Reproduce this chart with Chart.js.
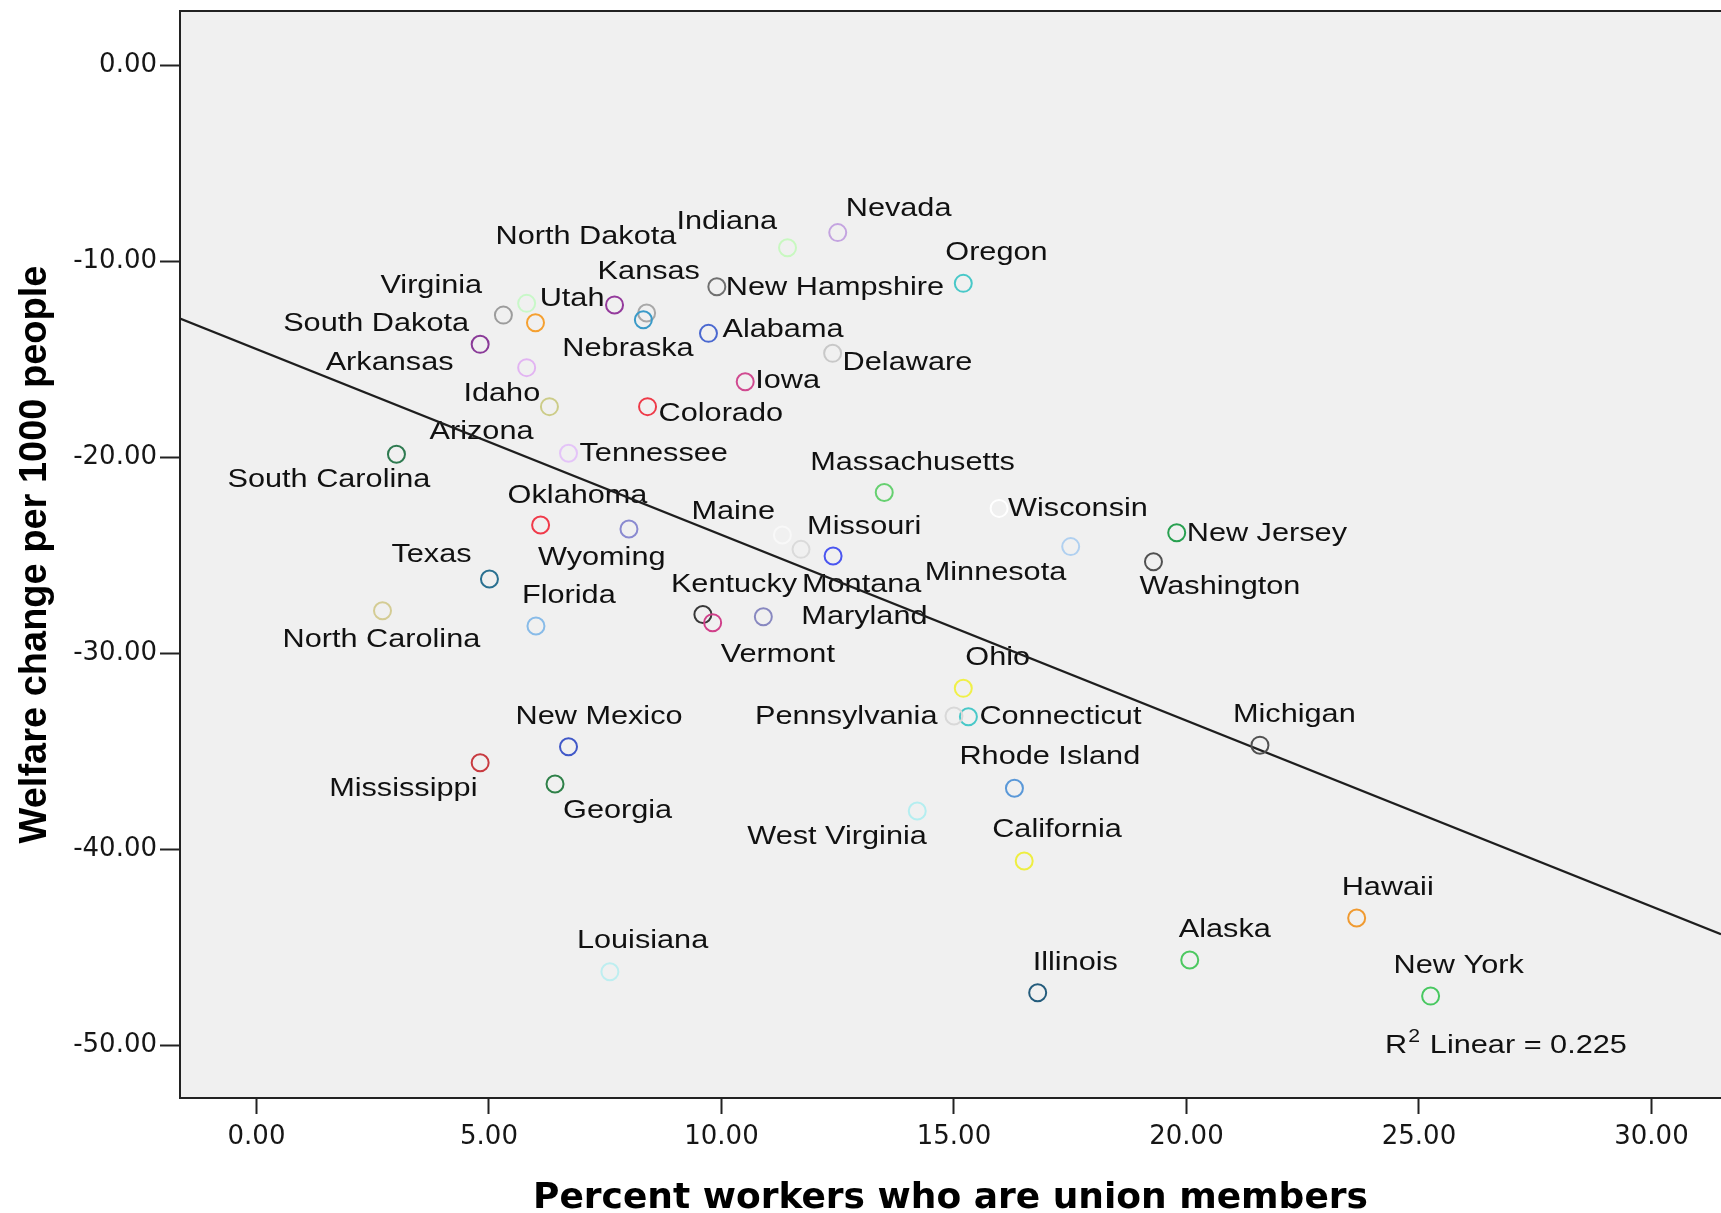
<!DOCTYPE html>
<html>
<head>
<meta charset="utf-8">
<script src="https://cdn.jsdelivr.net/npm/chart.js@4.4.1/dist/chart.umd.min.js"></script>
<style>
  html, body { margin: 0; padding: 0; background: #ffffff; }
  #c { display: block; }
</style>
</head>
<body>
<canvas id="c" width="1721" height="1213"></canvas>
<script>
// ---------------- DATA ----------------
const states = [
  'Alabama','Alaska','Arizona','Arkansas','California','Colorado','Connecticut','Delaware','Florida','Georgia',
  'Hawaii','Idaho','Illinois','Indiana','Iowa','Kansas','Kentucky','Louisiana','Maine','Maryland',
  'Massachusetts','Michigan','Minnesota','Mississippi','Missouri','Montana','Nebraska','Nevada','New Hampshire','New Jersey',
  'New Mexico','New York','North Carolina','North Dakota','Ohio','Oklahoma','Oregon','Pennsylvania','Rhode Island','South Carolina',
  'South Dakota','Tennessee','Texas','Utah','Vermont','Virginia','Washington','West Virginia','Wisconsin','Wyoming'
];
// Percent workers who are union members
const unionPct = [
  9.72, 20.07, 6.00, 5.81, 16.51, 8.41, 15.31, 12.39, 6.01, 6.42,
  23.66, 6.30, 16.80, 11.42, 10.51, 8.39, 9.60, 7.60, 11.31, 10.90,
  13.50, 21.58, 17.51, 4.81, 12.40, 11.71, 8.32, 12.50, 9.90, 19.79,
  6.71, 25.25, 2.71, 7.70, 15.20, 6.11, 15.20, 15.00, 16.30, 3.01,
  4.81, 6.71, 5.01, 5.81, 9.81, 5.31, 19.29, 14.21, 15.97, 8.01
];
// Welfare change per 1000 people
const welfareChange = [
  -13.69, -45.66, -13.15, -15.44, -40.61, -17.43, -33.25, -14.71, -28.62, -36.68,
  -43.52, -17.43, -47.33, -9.32, -16.16, -12.65, -28.03, -46.26, -23.98, -28.15,
  -21.81, -34.70, -24.57, -35.60, -25.05, -24.71, -13.00, -8.55, -11.31, -23.86,
  -34.78, -47.50, -27.84, -12.24, -31.80, -23.47, -11.14, -33.21, -36.90, -19.86,
  -14.25, -19.81, -26.22, -12.16, -28.45, -12.76, -25.34, -38.06, -22.62, -23.67
];
const xTickValues = [0, 5, 10, 15, 20, 25, 30];
const xTickLabels = ['0.00', '5.00', '10.00', '15.00', '20.00', '25.00', '30.00'];
const yTickValues = [0, -10, -20, -30, -40, -50];
const yTickLabels = ['0.00', '-10.00', '-20.00', '-30.00', '-40.00', '-50.00'];
const fitIntercept = -14.49;
const fitSlope = -0.948;
const rSquared = 0.225;
const xTitle = 'Percent workers who are union members';
const yTitle = 'Welfare change per 1000 people';

// ---------------- STYLE / LAYOUT ----------------
const X_MIN = -1.645, X_MAX = 31.495, Y_MIN = -52.70, Y_MAX = 2.755;
const pointColors = [
  '#4a68d0','#4cc860','#f5a030','#e2b4f2','#eeee40','#ee3a48','#48c8c8','#c8c8c8','#88bbe8','#2e8048',
  '#f09a30','#cccc88','#245c7c','#c8f8c0','#d04a90','#a8a8a8','#383838','#bdeef0','#f8f8f8','#8888c0',
  '#66d070','#505050','#b0d0f0','#c83a40','#4a55f0','#dadada','#3a9ac8','#c4a4e0','#707070','#28a050',
  '#4058c8','#48c860','#d4cc94','#943a9c','#f0f048','#f03a4a','#48c8c8','#d8d8d8','#5a98d8','#2e7a50',
  '#8a3a98','#e4c4f8','#2a7090','#c8f8c8','#d0408a','#9c9c9c','#505050','#b4eef0','#ffffff','#8a8ad0'
];
// label placement relative to the point, in pixels [dx to label's left edge, dy to label's middle]
const labelOffsets = {
  'Alabama':[14,-4], 'Alaska':[-11,-30], 'Arizona':[-106,109], 'Arkansas':[-201,-5], 'California':[-32,-31],
  'Colorado':[11,7], 'Connecticut':[11,0], 'Delaware':[10,9], 'Florida':[-14,-30], 'Georgia':[8,27],
  'Hawaii':[-15,-30], 'Idaho':[-86,-13], 'Illinois':[-5,-30], 'Indiana':[-111,-26], 'Iowa':[10,-1],
  'Kansas':[-49,-41], 'Kentucky':[-32,-30], 'Louisiana':[-33,-31], 'Maine':[-91,-23], 'Maryland':[38,0],
  'Massachusetts':[-74,-30], 'Michigan':[-27,-30], 'Minnesota':[-146,26], 'Mississippi':[-151,26], 'Missouri':[-26,-29],
  'Montana':[1,35], 'Nebraska':[-81,29], 'Nevada':[8,-24], 'New Hampshire':[9,1], 'New Jersey':[10,1],
  'New Mexico':[-53,-30], 'New York':[-37,-30], 'North Carolina':[-100,29], 'North Dakota':[-119,-68], 'Ohio':[2,-31],
  'Oklahoma':[-33,-29], 'Oregon':[-18,-31], 'Pennsylvania':[-199,1], 'Rhode Island':[-55,-31], 'South Carolina':[-169,26],
  'South Dakota':[-197,-20], 'Tennessee':[11,1], 'Texas':[-98,-24], 'Utah':[13,-5], 'Vermont':[8,32],
  'Virginia':[-123,-29], 'Washington':[-14,25], 'West Virginia':[-170,26], 'Wisconsin':[9,0], 'Wyoming':[-91,29]
};
const LABEL_FONT = '26px "Liberation Sans", Arial, sans-serif';
const LABEL_STRETCH = 1.18;

// ---------------- PLUGINS ----------------
const plotFrame = {
  id: 'plotFrame',
  beforeDraw(chart) {
    const { ctx, chartArea: a } = chart;
    ctx.save();
    ctx.fillStyle = '#ffffff';
    ctx.fillRect(0, 0, chart.width, chart.height);
    ctx.fillStyle = '#f0f0f0';
    ctx.fillRect(a.left, a.top, a.right - a.left, a.bottom - a.top);
    ctx.strokeStyle = '#222222';
    ctx.lineWidth = 2;
    ctx.beginPath();
    ctx.moveTo(a.left, a.top);
    ctx.lineTo(a.right, a.top);
    ctx.stroke();
    ctx.restore();
  }
};

const pointLabels = {
  id: 'pointLabels',
  beforeDatasetsDraw(chart) {
    const meta = chart.getDatasetMeta(0);
    const ctx = chart.ctx;
    ctx.save();
    ctx.font = LABEL_FONT;
    ctx.fillStyle = '#111111';
    ctx.textBaseline = 'middle';
    ctx.textAlign = 'left';
    meta.data.forEach((pt, i) => {
      const off = labelOffsets[states[i]] || [8, -26];
      ctx.save();
      ctx.translate(pt.x + off[0], pt.y + off[1]);
      ctx.scale(LABEL_STRETCH, 1);
      ctx.fillText(states[i], 0, 0);
      ctx.restore();
    });
    // R² annotation, anchored to the plot area's lower right
    const a = chart.chartArea;
    ctx.textBaseline = 'alphabetic';
    ctx.save();
    ctx.translate(a.left + 1205, a.bottom - 45);
    ctx.scale(LABEL_STRETCH, 1);
    ctx.fillText('R', 0, 0);
    let w = ctx.measureText('R').width;
    ctx.font = '18px "Liberation Sans", Arial, sans-serif';
    ctx.fillText('2', w + 1, -11);
    w += ctx.measureText('2').width + 2;
    ctx.font = LABEL_FONT;
    ctx.fillText(' Linear = ' + rSquared.toFixed(3), w, 0);
    ctx.restore();
    ctx.restore();
  }
};

// ---------------- CHART ----------------
const points = states.map((s, i) => ({ x: unionPct[i], y: welfareChange[i] }));
const fitLine = [
  { x: X_MIN, y: fitIntercept + fitSlope * X_MIN },
  { x: X_MAX, y: fitIntercept + fitSlope * X_MAX }
];

new Chart(document.getElementById('c'), {
  type: 'scatter',
  data: {
    datasets: [
      {
        label: 'States',
        data: points,
        pointStyle: 'circle',
        pointRadius: 8.5,
        pointHoverRadius: 8.5,
        pointBorderWidth: 2,
        pointBackgroundColor: 'rgba(0,0,0,0)',
        pointBorderColor: pointColors
      },
      {
        type: 'line',
        label: 'Linear fit',
        data: fitLine,
        showLine: true,
        borderColor: '#1e1e1e',
        borderWidth: 2.3,
        pointRadius: 0,
        fill: false
      }
    ]
  },
  options: {
    responsive: false,
    devicePixelRatio: 1,
    animation: false,
    events: [],
    layout: { autoPadding: false, padding: { top: 11, right: 0, bottom: 0, left: 0 } },
    plugins: { legend: { display: false }, tooltip: { enabled: false } },
    scales: {
      x: {
        type: 'linear',
        min: X_MIN,
        max: X_MAX,
        afterBuildTicks: s => { s.ticks = xTickValues.map(v => ({ value: v })); },
        afterFit: s => { s.height = 115; s.paddingLeft = 0; s.paddingRight = 0; },
        ticks: {
          callback: v => xTickLabels[xTickValues.indexOf(v)],
          font: { family: 'DejaVu Sans', size: 26 },
          color: '#161616',
          padding: 8,
          maxRotation: 0,
          autoSkip: false
        },
        grid: { display: true, drawOnChartArea: false, drawTicks: true, tickLength: 16, tickWidth: 2, tickColor: '#222222' },
        border: { display: true, color: '#222222', width: 2 },
        title: {
          display: true,
          text: xTitle,
          color: '#000000',
          font: { family: 'DejaVu Sans', size: 36, weight: 'bold', lineHeight: 0.8 },
          padding: 0
        }
      },
      y: {
        type: 'linear',
        min: Y_MIN,
        max: Y_MAX,
        afterBuildTicks: s => { s.ticks = yTickValues.map(v => ({ value: v })); },
        afterFit: s => { s.width = 180; s.paddingTop = 0; s.paddingBottom = 0; },
        ticks: {
          callback: v => yTickLabels[yTickValues.indexOf(v)],
          font: { family: 'DejaVu Sans', size: 26 },
          color: '#161616',
          padding: 3,
          autoSkip: false
        },
        grid: { display: true, drawOnChartArea: false, drawTicks: true, tickLength: 20, tickWidth: 2, tickColor: '#222222' },
        border: { display: true, color: '#222222', width: 2 },
        title: {
          display: true,
          text: yTitle,
          color: '#000000',
          font: { family: 'Liberation Sans', size: 38, weight: 'bold' },
          padding: { top: 13, bottom: 0 }
        }
      }
    }
  },
  plugins: [plotFrame, pointLabels]
});
</script>
</body>
</html>
